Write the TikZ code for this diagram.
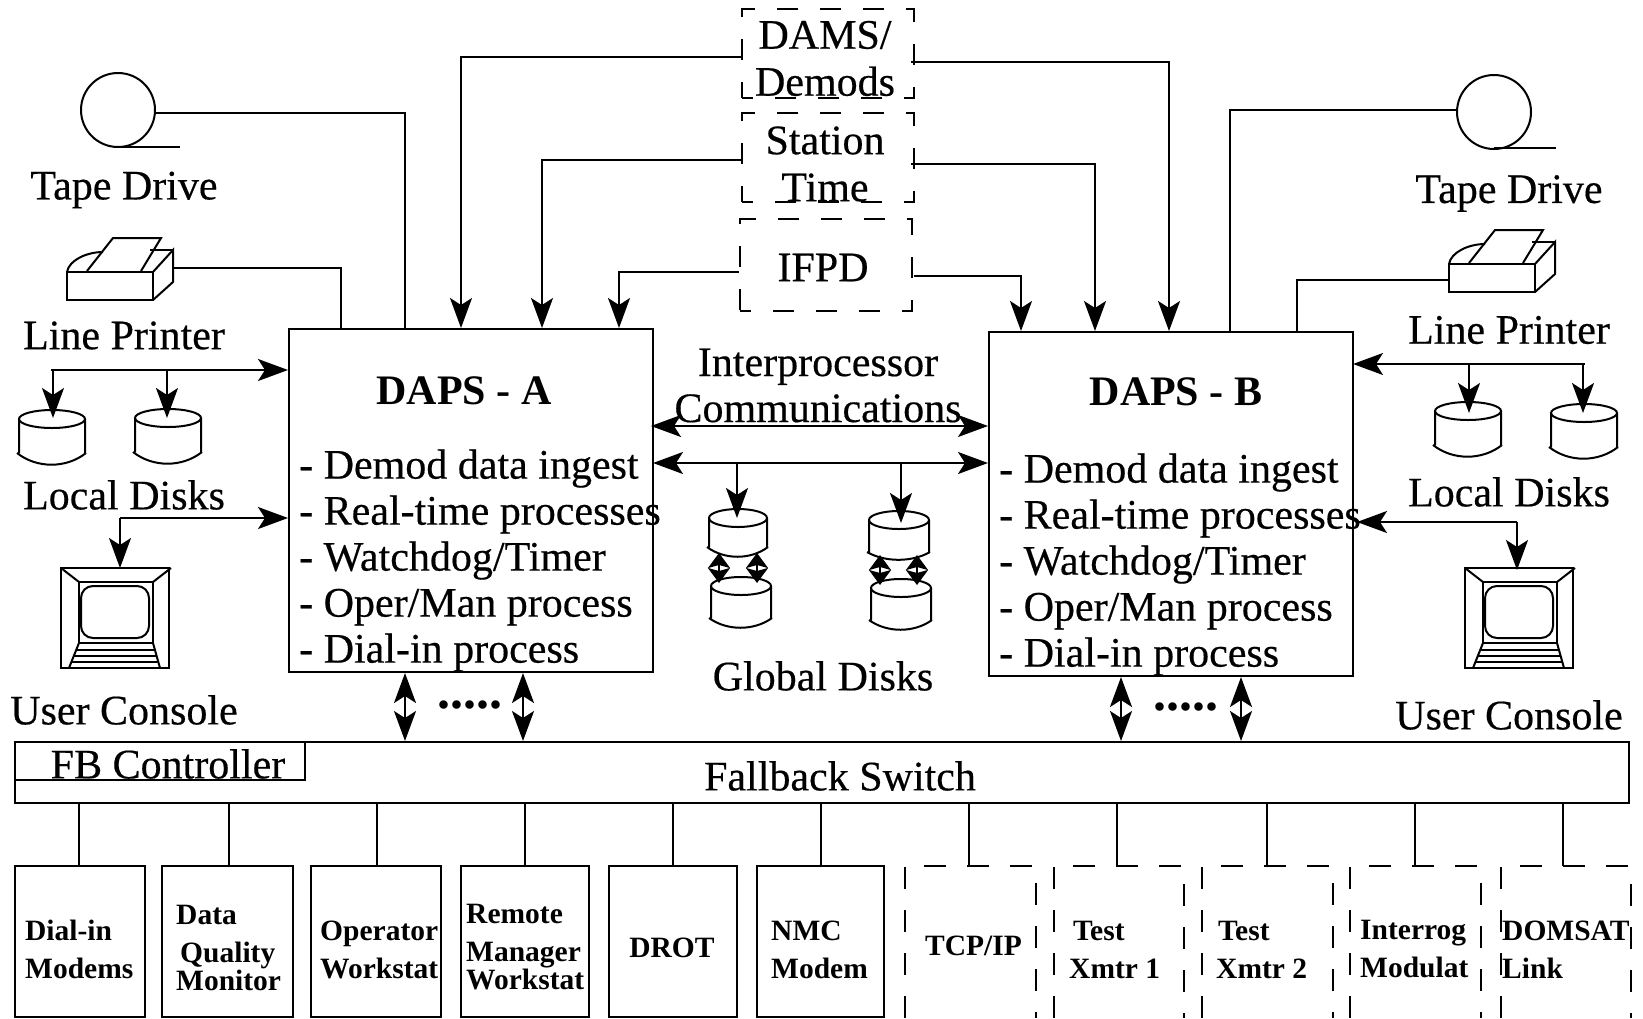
\documentclass[tikz,border=0pt]{standalone}
\usepackage{fontspec}
\setmainfont{Liberation Serif}
\newfontfamily\reffont[FakeBold=0.4]{Liberation Serif}
\usetikzlibrary{arrows.meta,calc}
\tikzset{
  ln/.style={line width=2pt,draw=black},
  solidbox/.style={ln,rectangle,inner sep=0pt},
  blank/.style={rectangle,inner sep=0pt},
  dashbox/.style={line width=2pt,draw=black,dash pattern=on 21pt off 22pt,dash phase=10pt,rectangle,inner sep=0pt},
  dashpath/.style={line width=2pt,draw=black,dash pattern=on 22pt off 21pt},
  conn/.style={ln},
  tip/.style={ln,-{Stealth[length=30pt,width=22pt,inset=7pt]}},
  tiptwo/.style={ln,{Stealth[length=30pt,width=22pt,inset=7pt]}-{Stealth[length=30pt,width=22pt,inset=7pt]}},
  tipshort/.style={ln,{Stealth[length=15pt,width=22pt,inset=3pt]}-{Stealth[length=15pt,width=22pt,inset=3pt]}},
  lab/.style={font=\reffont\fontsize{42}{46}\selectfont,inner sep=0pt,align=center},
  item/.style={font=\reffont\fontsize{42}{46}\selectfont,inner sep=0pt,align=left,anchor=west},
  title/.style={font=\fontsize{42}{46}\selectfont\bfseries,inner sep=0pt},
  small/.style={font=\fontsize{29.5}{38}\selectfont\bfseries,inner sep=0pt,align=left,anchor=west},
  dots/.style={font=\fontsize{52}{52}\selectfont\bfseries,inner sep=0pt,anchor=base},
  printer/.pic={
    \draw[ln] (0,0) rectangle (86,28);
    \draw[ln] (86,0)--(106,-22)--(106,10)--(86,28);
    \draw[ln] (83,-22)--(106,-22);
    \draw[ln] (20,-1)--(46,-34)--(94,-34)--(74,-1);
    \draw[ln] (0,0) .. controls (2,-12) and (20,-20) .. (36,-20);
  },
  console/.pic={
    \draw[ln] (0,0) rectangle (108,100);
    \draw[ln] (18,14) rectangle (92,75);
    \draw[ln] (0,0)--(18,14);
    \draw[ln] (110,0)--(92,14);
    \draw[ln,rounded corners=12pt] (20,18) rectangle (88,70);
    \draw[ln] (18,75)--(8,100);
    \draw[ln] (92,75)--(99,100);
    \draw[ln] (15,82)--(95,82);
    \draw[ln] (13,88)--(96,88);
    \draw[ln] (11,94)--(98,94);
  }
}
\newcommand{\diskat}[5]{% cx cy rx h sag
  \draw[ln] (#1,#2) ellipse [x radius=#3,y radius=9];
  \draw[ln] (#1,#2) ++(-#3,0) -- ++(0,#4) ++(-2,0) .. controls +({#3*0.6},{#5*1.3}) and +({-#3*0.6},{#5*1.3}) .. ++({2*#3+3},0) ++(-1,0) -- ++(0,-#4);
}
\newcommand{\stem}[2]{\draw[ln] ([xshift=#2pt]#1.north) -- ([xshift=#2pt]#1.north |- fb.south);}
\newcommand{\dashopen}[1]{\draw[dashpath] (#1.south west) -- (#1.north west) -- (#1.north east) -- (#1.south east);}
\begin{document}
\begin{tikzpicture}[x=1pt,y=-1pt]
\useasboundingbox (0,0) rectangle (1643,1018);
% main boxes
\node[solidbox,minimum width=364pt,minimum height=343pt] (A) at (471,500.5) {};
\node[solidbox,minimum width=364pt,minimum height=344pt] (B) at (1171,504) {};
\node[solidbox,minimum width=1614pt,minimum height=61pt] (fb) at (822,772.5) {};
\node[solidbox,minimum width=290pt,minimum height=38pt] (fbc) at (160,761) {};
% top dashed boxes
\node[dashbox,minimum width=172pt,minimum height=89pt] (dams) at (828,53.5) {};
\node[dashbox,minimum width=172pt,minimum height=89pt] (stn) at (828,157.5) {};
\node[dashbox,minimum width=172pt,minimum height=92pt] (ifpd) at (826,265) {};
% labels
\node[lab] (ldams) at (825,58.5) {DAMS/\\[1pt]Demods};
\node[lab] (lstn) at (825,164) {Station\\[1pt]Time};
\node[lab] (lifpd) at (823,267.5) {IFPD};
\node[title] (ta) at (464,391) {DAPS - A};
\node[title] (tb) at (1176,392) {DAPS - B};
\node[item] (ia) at (299,560.5) {- Demod data ingest\\- Real-time processes\\- Watchdog/Timer\\- Oper/Man process\\- Dial-in process};
\node[item] (ib) at (999,564.5) {- Demod data ingest\\- Real-time processes\\- Watchdog/Timer\\- Oper/Man process\\- Dial-in process};
\node[lab] (lip) at (818,385.5) {Interprocessor\\Communications};
\node[lab] (lgd) at (823,676) {Global Disks};
\node[lab] (lfb) at (840,776) {Fallback Switch};
\node[lab] (lfc) at (168,764) {FB Controller};
\node[lab] (ltl) at (124,190) {Tape Drive};
\node[lab] (lpl) at (124,335.5) {Line Printer};
\node[lab] (ldl) at (124,495) {Local Disks};
\node[lab] (lcl) at (124,710) {User Console};
\node[lab] (ltr) at (1509,193.5) {Tape Drive};
\node[lab] (lpr) at (1509,330) {Line Printer};
\node[lab] (ldr) at (1509,492) {Local Disks};
\node[lab] (lcr) at (1509,715) {User Console};
\node[dots] (dotsa) at (470,708) {.....};
\node[dots] (dotsb) at (1186,710) {.....};
% tape drives
\node[circle,ln,minimum size=74pt,inner sep=0pt] (tl) at (118,110) {};
\node[circle,ln,minimum size=74pt,inner sep=0pt] (tr) at (1494,112) {};
\draw[ln] (118,147) -- (180,147);
\draw[ln] (1494,148) -- (1556,148);
\draw[conn] ([yshift=-3pt]tl.east) -| ([xshift=-66pt]A.north);
\draw[conn] ([yshift=2pt]tr.west) -| ([xshift=59pt]B.north);
% printers
\pic at (67,272) {printer};
\pic at (1449,264) {printer};
\coordinate (pl) at (174,268);
\coordinate (pr) at (1449,280);
\draw[conn] (pl) -| ([xshift=-130pt]A.north);
\draw[conn] (pr) -| ([xshift=126pt]B.north);
% consoles
\pic at (61,568) {console};
\pic at (1465,568) {console};
% local disks
\diskat{52}{419}{33}{34}{12}
\diskat{168}{418}{33}{34}{12}
\diskat{1468}{411}{33}{34}{12}
\diskat{1584}{413}{33}{34}{12}
% global disks
\diskat{738}{518}{29}{29}{10}
\diskat{741}{586}{30}{32}{10}
\diskat{899}{520}{30}{32}{8}
\diskat{901}{588}{30}{32}{10}
% local buses
\coordinate (ld1) at (53,418);
\coordinate (ld2) at (167,418);
\coordinate (lbus) at (51,370);
\coordinate (lc) at (120,568);
\coordinate (lcb) at (120,518);
\coordinate (rd1) at (1469,413);
\coordinate (rd2) at (1583,413);
\coordinate (rbus) at (1585,364);
\coordinate (rc) at (1517,570);
\coordinate (rcb) at (1517,522);
\draw[tip] (lbus) -- (A.west |- lbus);
\draw[tip] (ld1 |- lbus) -- (ld1);
\draw[tip] (ld2 |- lbus) -- (ld2);
\draw[tip] (lcb) -- (A.west |- lcb);
\draw[tip] (lcb) -- (lc);
\draw[tip] (rbus) -- ([xshift=-1pt]B.east |- rbus);
\draw[tip] (rd1 |- rbus) -- (rd1);
\draw[tip] (rd2 |- rbus) -- (rd2);
\draw[tip] (rcb) -- ([xshift=3pt]B.east |- rcb);
\draw[tip] (rcb) -- (rc);
% top connectors
\draw[tip] ([yshift=-3.5pt]dams.west) -| ([xshift=-10pt]A.north);
\draw[tip] ([yshift=-2.5pt]stn.west) -| ([xshift=71pt]A.north);
\draw[tip] ([yshift=-7pt]ifpd.west) -| ([xshift=148pt]A.north);
\draw[tip] ([yshift=-8.5pt,xshift=-4pt]dams.east) -| ([xshift=-2pt]B.north);
\draw[tip] ([yshift=-6.5pt,xshift=-4pt]stn.east) -| ([xshift=-76pt]B.north);
\draw[tip] ([yshift=-11pt,xshift=1pt]ifpd.east) -| ([xshift=-150pt]B.north);
% interprocessor
\draw[tiptwo] ([yshift=74.5pt,xshift=-3pt]A.east) -- ([yshift=78pt]B.west);
\coordinate (bus) at (653,463);
\draw[tiptwo] (bus) -- (B.west |- bus);
\coordinate (gd1) at (737,518);
\coordinate (gd2) at (901,523);
\draw[tip] (gd1 |- bus) -- (gd1);
\draw[tip] (gd2 |- bus) -- (gd2);
% double short arrows between global disks
\coordinate (g1a) at (719,553); \coordinate (g1b) at (719,583);
\coordinate (g2a) at (757,553); \coordinate (g2b) at (757,583);
\coordinate (g3a) at (880,555); \coordinate (g3b) at (880,585);
\coordinate (g4a) at (917,555); \coordinate (g4b) at (917,585);
\draw[tipshort] (g1a) -- (g1b);
\draw[tipshort] (g2a) -- (g2b);
\draw[tipshort] (g3a) -- (g3b);
\draw[tipshort] (g4a) -- (g4b);
% to fallback switch
\draw[tiptwo] ([xshift=-66pt]A.south) -- ([xshift=-66pt]A.south |- fb.north);
\draw[tiptwo] ([xshift=52pt]A.south) -- ([xshift=52pt]A.south |- fb.north);
\draw[tiptwo] ([xshift=-50pt]B.south) -- ([xshift=-50pt]B.south |- fb.north);
\draw[tiptwo] ([xshift=70pt]B.south) -- ([xshift=70pt]B.south |- fb.north);
% bottom boxes
\node[solidbox,minimum width=130pt,minimum height=151pt] (b1) at (80,941.5) {};
\node[solidbox,minimum width=131pt,minimum height=151pt] (b2) at (227.5,941.5) {};
\node[solidbox,minimum width=130pt,minimum height=151pt] (b3) at (376,941.5) {};
\node[solidbox,minimum width=128pt,minimum height=151pt] (b4) at (525,941.5) {};
\node[solidbox,minimum width=128pt,minimum height=151pt] (b5) at (673,941.5) {};
\node[solidbox,minimum width=127pt,minimum height=151pt] (b6) at (820.5,941.5) {};
\node[blank,minimum width=131pt,minimum height=152pt] (b7) at (970.5,942) {};
\node[blank,minimum width=130pt,minimum height=152pt] (b8) at (1119,942) {};
\node[blank,minimum width=131pt,minimum height=152pt] (b9) at (1267.5,942) {};
\node[blank,minimum width=131pt,minimum height=152pt] (b10) at (1415.5,942) {};
\node[blank,minimum width=130pt,minimum height=152pt] (b11) at (1566,942) {};
\dashopen{b7}\dashopen{b8}\dashopen{b9}\dashopen{b10}\dashopen{b11}
\stem{b1}{-1}\stem{b2}{1.5}\stem{b3}{1}\stem{b4}{0}\stem{b5}{0}\stem{b6}{0.5}
\stem{b7}{-1.5}\stem{b8}{-2}\stem{b9}{-0.5}\stem{b10}{-0.5}\stem{b11}{-3}
\node[small] (s1) at (25,949.5) {Dial-in\\Modems};
\node[small] (s2) at (176,947.5) {Data\\\hspace*{4pt}Quality\\[-10pt]Monitor};
\node[small] (s3) at (320,949.5) {Operator\\Workstat};
\node[small] (s4) at (466,947.5) {Remote\\Manager\\[-10pt]Workstat};
\node[small] (s5) at (672,948) [anchor=center] {DROT};
\node[small] (s6) at (771,949.5) {NMC\\Modem};
\node[small] (s7) at (925,946) {TCP/IP};
\node[small] (s8) at (1069,949.5) {\hspace*{4pt}Test\\Xmtr 1};
\node[small] (s9) at (1216,949.5) {\hspace*{2pt}Test\\Xmtr 2};
\node[small] (s10) at (1360,949.5) {Interrog\\Modulat};
\node[small] (s11) at (1502,949.5) {DOMSAT\\Link};
\end{tikzpicture}
\end{document}
